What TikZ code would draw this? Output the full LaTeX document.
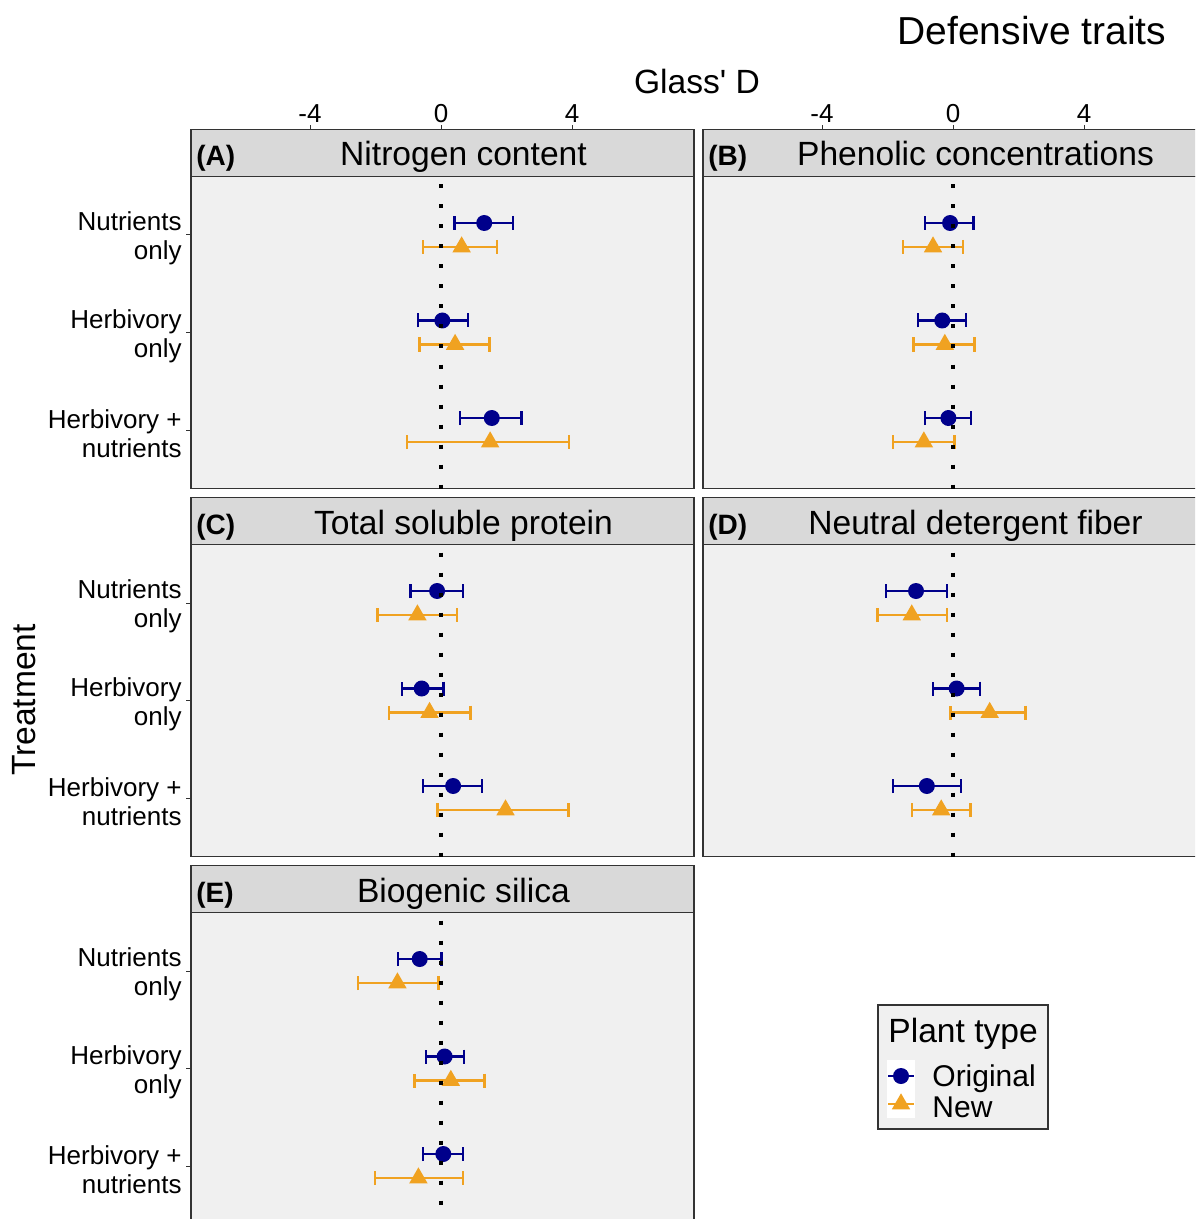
\documentclass[tikz,border=0pt]{standalone}
\usepackage{fontspec}
\setmainfont{Liberation Sans}[Ligatures=TeXOff]
\usetikzlibrary{positioning,arrows.meta}

\definecolor{origblue}{HTML}{00008B}
\definecolor{neworange}{HTML}{F0A221}
\definecolor{panelgray}{HTML}{F0F0F0}
\definecolor{stripgray}{HTML}{D9D9D9}
\definecolor{framegray}{HTML}{333333}

\tikzstyle{stripbox} = [draw=framegray, fill=stripgray, line width=0.75pt, rectangle, anchor=north west, inner sep=0pt, outer sep=0pt, minimum width=251.5pt, minimum height=23.5pt]
\tikzstyle{panelbox} = [draw=framegray, fill=panelgray, line width=0.75pt, rectangle, inner sep=0pt, outer sep=0pt, minimum width=251.5pt, minimum height=156pt]
\tikzstyle{striptext} = [font=\fontsize{16.8}{20}\selectfont, inner sep=0pt, anchor=base]
\tikzstyle{tagtext} = [font=\fontsize{14}{16}\selectfont\bfseries, inner sep=0pt, anchor=base west]
\tikzstyle{ticklabel} = [font=\fontsize{13}{15}\selectfont, inner sep=0pt]
\tikzstyle{rowlabel} = [font=\fontsize{13}{14.5}\selectfont, align=right, anchor=east, inner sep=0pt]
\tikzstyle{axistitle} = [font=\fontsize{16.8}{20}\selectfont, inner sep=0pt]
\tikzstyle{maintitle} = [font=\fontsize{19.5}{23}\selectfont, inner sep=0pt]
\tikzstyle{legendbox} = [draw=framegray, fill=panelgray, line width=0.75pt, rectangle, anchor=north west, minimum width=85pt, minimum height=62pt]
\tikzstyle{legendtext} = [font=\fontsize{15}{17}\selectfont, inner sep=0pt, anchor=west]
\tikzstyle{tickline} = [draw=framegray, line width=0.5pt]
\tikzstyle{zeroline} = [line width=2pt, dash pattern=on 2pt off 8pt, dash phase=6pt]
\tikzstyle{origbar} = [draw=origblue, line width=1.15pt, {Bar[width=7pt]}-{Bar[width=7pt]}]
\tikzstyle{newbar} = [draw=neworange, line width=1.15pt, {Bar[width=7pt]}-{Bar[width=7pt]}]

\newcommand{\facet}[5]{%
  \node[stripbox] (strip#1) at (#2,#3) {};
  \node[panelbox, below=0pt of strip#1] (body#1) {};
  \node[tagtext] (tag#1) at ([xshift=2.5pt, yshift=5.25pt]strip#1.south west) {#4};
  \node[striptext] (title#1) at ([xshift=10.5pt, yshift=5.25pt]strip#1.south) {#5};
}
\newcommand{\newmark}[1]{\fill[neworange] #1 ++(0pt,5.35pt) -- ++(-4.6pt,-8pt) -- ++(9.2pt,0pt) -- cycle;}
\newcommand{\rowpair}[7]{%
  \draw[origbar] (#2,#1-12) -- (#4,#1-12);
  \fill[origblue] (#3,#1-12) circle[radius=4pt];
  \draw[newbar] (#5,#1+12) -- (#7,#1+12);
  \newmark{(#6,#1+12)}
}
\newcommand{\rowlabels}[2]{%
  \node[rowlabel] (#1nut) at (182,#2+3.5) {Nutrients\\only};
  \node[rowlabel] (#1herb) at (182,#2+101) {Herbivory\\only};
  \node[rowlabel] (#1both) at (182,#2+198.5) {Herbivory +\\nutrients};
  \foreach \dy in {0,97.5,195} \draw[tickline] (186,#2+\dy) -- (191,#2+\dy);
}

\begin{document}
\begin{tikzpicture}[x=0.5pt, y=-0.5pt]
  \useasboundingbox (0,0) rectangle (1195,1219);
  \clip (0,0) rectangle (1195,1219);

  \node[maintitle] (title) at (1032,31) {Defensive traits};
  \node[axistitle] (xtitle) at (697,81) {Glass' D};
  \node[axistitle, rotate=90] (ytitle) at (24,700) {Treatment};

  \facet{A}{191}{129.5}{(A)}{Nitrogen content}
  \facet{B}{703}{129.5}{(B)}{Phenolic concentrations}
  \facet{C}{191}{497.5}{(C)}{Total soluble protein}
  \facet{D}{703}{497.5}{(D)}{Neutral detergent fiber}
  \facet{E}{191}{865.5}{(E)}{Biogenic silica}

  \rowlabels{A}{235}
  \rowlabels{C}{603}
  \rowlabels{E}{971}

  \begin{scope}[shift={(bodyA.north west)}, xshift=125pt, x=16.375pt]
    \rowpair{58.5}{0.38}{1.32}{2.24}{-0.59}{0.63}{1.75}
    \rowpair{156}{-0.74}{0.04}{0.85}{-0.69}{0.43}{1.52}
    \rowpair{253.5}{0.55}{1.55}{2.49}{-1.07}{1.50}{3.94}
    \draw[zeroline] (0,0) -- (0,312);
    \foreach \v in {-4,0,4} {
      \draw[tickline] (\v,-47) -- (\v,-51.5);
      \node[ticklabel] (tickA\v) at (\v,-62.5) {\v};
    }
  \end{scope}

  \begin{scope}[shift={(bodyB.north west)}, xshift=125pt, x=16.375pt]
    \rowpair{58.5}{-0.89}{-0.09}{0.66}{-1.57}{-0.61}{0.34}
    \rowpair{156}{-1.11}{-0.33}{0.44}{-1.24}{-0.25}{0.69}
    \rowpair{253.5}{-0.89}{-0.14}{0.59}{-1.87}{-0.89}{0.08}
    \draw[zeroline] (0,0) -- (0,312);
    \foreach \v in {-4,0,4} {
      \draw[tickline] (\v,-47) -- (\v,-51.5);
      \node[ticklabel] (tickB\v) at (\v,-62.5) {\v};
    }
  \end{scope}

  \begin{scope}[shift={(bodyC.north west)}, xshift=125pt, x=16.375pt]
    \rowpair{58.5}{-0.97}{-0.12}{0.71}{-1.97}{-0.72}{0.52}
    \rowpair{156}{-1.22}{-0.59}{0.11}{-1.63}{-0.35}{0.94}
    \rowpair{253.5}{-0.59}{0.37}{1.28}{-0.14}{1.97}{3.93}
    \draw[zeroline] (0,0) -- (0,312);
  \end{scope}

  \begin{scope}[shift={(bodyD.north west)}, xshift=125pt, x=16.375pt]
    \rowpair{58.5}{-2.09}{-1.13}{-0.15}{-2.34}{-1.26}{-0.15}
    \rowpair{156}{-0.65}{0.11}{0.86}{-0.11}{1.12}{2.25}
    \rowpair{253.5}{-1.87}{-0.80}{0.28}{-1.29}{-0.36}{0.57}
    \draw[zeroline] (0,0) -- (0,312);
  \end{scope}

  \begin{scope}[shift={(bodyE.north west)}, xshift=125pt, x=16.375pt]
    \rowpair{58.5}{-1.35}{-0.65}{0.05}{-2.56}{-1.33}{-0.04}
    \rowpair{156}{-0.50}{0.11}{0.73}{-0.84}{0.30}{1.36}
    \rowpair{253.5}{-0.59}{0.07}{0.71}{-2.05}{-0.69}{0.71}
    \draw[zeroline] (0,0) -- (0,312);
  \end{scope}

  \node[legendbox] (legend) at (877,1004) {};
  \node[legendtext, font=\fontsize{16.8}{20}\selectfont] (legtitle) at (888,1034) {Plant type};
  \fill[white] (887,1060) rectangle (915,1118);
  \draw[origblue, line width=1.15pt] (888,1076) -- (914,1076);
  \fill[origblue] (901,1076) circle[radius=4pt];
  \draw[neworange, line width=1.15pt] (888,1104) -- (914,1104);
  \newmark{(901,1104)}
  \node[legendtext] (legorig) at (932,1079) {Original};
  \node[legendtext] (legnew) at (932,1107) {New};
\end{tikzpicture}
\end{document}
